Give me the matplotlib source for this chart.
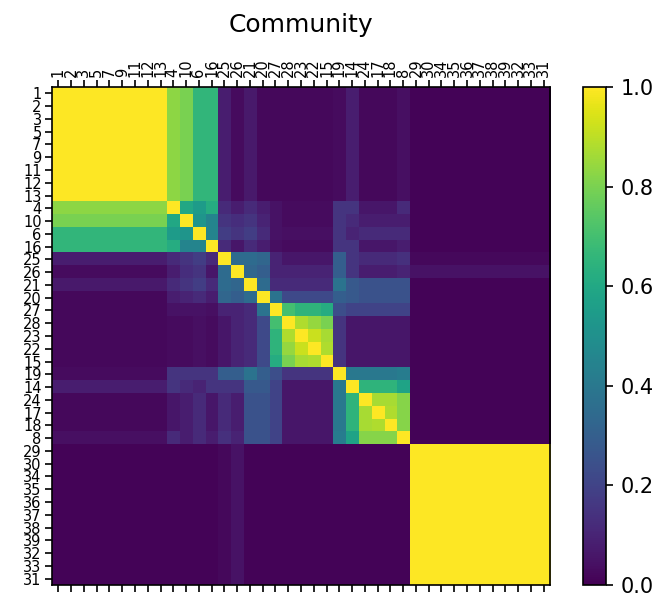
import numpy as np
import matplotlib
matplotlib.use("Agg")
import matplotlib.pyplot as plt

# node order along both axes
labels = [1, 2, 3, 5, 7, 9, 11, 12, 13, 4, 10, 6, 16, 25, 26, 21, 20, 27, 28,
          23, 22, 15, 19, 14, 24, 17, 18, 8, 29, 30, 34, 35, 36, 37, 38, 39, 32, 33, 31]

n_a = 9    # first block (1..13), fully co-assigned
n_b = 11   # last block (29..31), fully co-assigned

# middle nodes: 4,10,6,16,25,26,21,20,27,28,23,22,15,19,14,24,17,18,8
a_link = [0.83, 0.80, 0.66, 0.66, 0.08, 0.03, 0.07, 0.02, 0.02, 0.02,
          0.02, 0.02, 0.02, 0.03, 0.08, 0.02, 0.02, 0.02, 0.04]
b_link = [0.01, 0.01, 0.01, 0.01, 0.02, 0.05, 0.01, 0.01, 0.01, 0.01,
          0.01, 0.01, 0.01, 0.01, 0.01, 0.01, 0.01, 0.01, 0.01]
a_b = 0.01

mid = [
    [1.00, 0.60, 0.55, 0.62, 0.12, 0.08, 0.12, 0.08, 0.05, 0.03, 0.03, 0.03, 0.03, 0.15, 0.15, 0.06, 0.06, 0.06, 0.12],
    [0.60, 1.00, 0.52, 0.45, 0.15, 0.13, 0.15, 0.10, 0.05, 0.03, 0.03, 0.03, 0.03, 0.15, 0.12, 0.08, 0.08, 0.08, 0.08],
    [0.55, 0.52, 1.00, 0.45, 0.18, 0.15, 0.18, 0.12, 0.05, 0.04, 0.04, 0.04, 0.04, 0.15, 0.10, 0.12, 0.12, 0.12, 0.12],
    [0.62, 0.45, 0.45, 1.00, 0.12, 0.06, 0.12, 0.08, 0.04, 0.03, 0.03, 0.03, 0.03, 0.15, 0.15, 0.06, 0.06, 0.06, 0.08],
    [0.12, 0.15, 0.18, 0.12, 1.00, 0.35, 0.35, 0.33, 0.10, 0.06, 0.06, 0.06, 0.06, 0.30, 0.15, 0.12, 0.12, 0.12, 0.14],
    [0.08, 0.13, 0.15, 0.06, 0.35, 1.00, 0.33, 0.30, 0.10, 0.10, 0.10, 0.10, 0.10, 0.30, 0.15, 0.08, 0.08, 0.08, 0.10],
    [0.12, 0.15, 0.18, 0.12, 0.35, 0.33, 1.00, 0.35, 0.12, 0.12, 0.12, 0.12, 0.12, 0.38, 0.28, 0.25, 0.25, 0.25, 0.25],
    [0.08, 0.10, 0.12, 0.08, 0.33, 0.30, 0.35, 1.00, 0.38, 0.22, 0.22, 0.22, 0.22, 0.30, 0.28, 0.25, 0.25, 0.25, 0.25],
    [0.05, 0.05, 0.05, 0.04, 0.10, 0.10, 0.12, 0.38, 1.00, 0.70, 0.65, 0.65, 0.62, 0.24, 0.20, 0.20, 0.20, 0.20, 0.20],
    [0.03, 0.03, 0.04, 0.03, 0.06, 0.10, 0.12, 0.22, 0.70, 1.00, 0.88, 0.84, 0.80, 0.15, 0.06, 0.06, 0.06, 0.06, 0.06],
    [0.03, 0.03, 0.04, 0.03, 0.06, 0.10, 0.12, 0.22, 0.65, 0.88, 1.00, 0.92, 0.87, 0.15, 0.06, 0.06, 0.06, 0.06, 0.06],
    [0.03, 0.03, 0.04, 0.03, 0.06, 0.10, 0.12, 0.22, 0.65, 0.84, 0.92, 1.00, 0.88, 0.15, 0.06, 0.06, 0.06, 0.06, 0.06],
    [0.03, 0.03, 0.04, 0.03, 0.06, 0.10, 0.12, 0.22, 0.62, 0.80, 0.87, 0.88, 1.00, 0.15, 0.06, 0.06, 0.06, 0.06, 0.06],
    [0.15, 0.15, 0.15, 0.15, 0.30, 0.30, 0.38, 0.30, 0.24, 0.15, 0.15, 0.15, 0.15, 1.00, 0.40, 0.40, 0.40, 0.40, 0.42],
    [0.15, 0.12, 0.10, 0.15, 0.15, 0.15, 0.28, 0.28, 0.20, 0.06, 0.06, 0.06, 0.06, 0.40, 1.00, 0.65, 0.65, 0.65, 0.58],
    [0.06, 0.08, 0.12, 0.06, 0.12, 0.08, 0.25, 0.25, 0.20, 0.06, 0.06, 0.06, 0.06, 0.40, 0.65, 1.00, 0.87, 0.87, 0.82],
    [0.06, 0.08, 0.12, 0.06, 0.12, 0.08, 0.25, 0.25, 0.20, 0.06, 0.06, 0.06, 0.06, 0.40, 0.65, 0.87, 1.00, 0.88, 0.82],
    [0.06, 0.08, 0.12, 0.06, 0.12, 0.08, 0.25, 0.25, 0.20, 0.06, 0.06, 0.06, 0.06, 0.40, 0.65, 0.87, 0.88, 1.00, 0.82],
    [0.12, 0.08, 0.12, 0.08, 0.14, 0.10, 0.25, 0.25, 0.20, 0.06, 0.06, 0.06, 0.06, 0.42, 0.58, 0.82, 0.82, 0.82, 1.00],
]

# assemble the full co-assignment matrix
n = len(labels)
n_m = len(mid)
mat = np.zeros((n, n))
mat[:n_a, :n_a] = 1.0
mat[n - n_b:, n - n_b:] = 1.0
mat[:n_a, n - n_b:] = a_b
mat[n - n_b:, :n_a] = a_b
sl = slice(n_a, n_a + n_m)
m = np.array(mid)
mat[sl, sl] = (m + m.T) / 2
mat[:n_a, sl] = np.array(a_link)[None, :]
mat[sl, :n_a] = np.array(a_link)[:, None]
mat[n - n_b:, sl] = np.array(b_link)[None, :]
mat[sl, n - n_b:] = np.array(b_link)[:, None]

fig = plt.figure(figsize=(670 / 150, 616 / 150), dpi=150)
ax = fig.add_axes([0.0776, 0.0503, 0.7433, 0.8085])
im = ax.matshow(mat, cmap="viridis", vmin=0, vmax=1, aspect="auto")

ax.set_xticks(range(n))
ax.set_yticks(range(n))
ax.set_xticklabels([str(l) for l in labels], rotation=90)
ax.set_yticklabels([str(l) for l in labels])
ax.tick_params(axis="both", labelsize=7, pad=1.5)
ax.xaxis.set_ticks_position("both")
ax.tick_params(axis="x", labelbottom=False, labeltop=True)

cax = fig.add_axes([0.870, 0.0503, 0.034, 0.8085])
cb = fig.colorbar(im, cax=cax, ticks=[0.0, 0.2, 0.4, 0.6, 0.8, 1.0])
cb.ax.tick_params(labelsize=10)

fig.text(0.449, 0.959, "Community", ha="center", va="center", fontsize=12)

fig.savefig("out.png", dpi=150)
